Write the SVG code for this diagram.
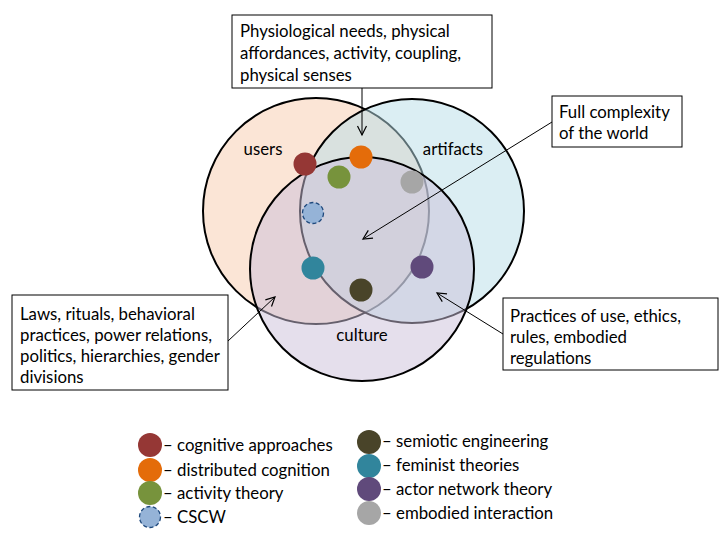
<svg xmlns="http://www.w3.org/2000/svg" width="720" height="540" viewBox="0 0 720 540">
<defs>
<marker id="arr" markerWidth="12" markerHeight="12" refX="10" refY="6" orient="auto" markerUnits="userSpaceOnUse">
<path d="M1,1.5 L10,6 L1,10.5" fill="none" stroke="#000" stroke-width="1.2"/>
</marker>
</defs>
<style>
text{font-family:Lato,"Liberation Sans",sans-serif;font-size:16.8px;fill:#000}
.set{stroke:#000;stroke-width:2}
.box{fill:#fff;stroke:#000;stroke-width:1}
.conn{fill:none;stroke:#000;stroke-width:1;marker-end:url(#arr)}
.lbl{text-anchor:middle}
</style>
<rect width="720" height="540" fill="#fff"/>
<g id="set-users"><circle class="set" cx="316" cy="211" r="113" fill="#FBE5D6"/><text class="lbl" x="263" y="155">users</text></g>
<g id="set-artifacts"><circle class="set" cx="412" cy="211" r="112" fill="#B7DEE8" fill-opacity="0.5"/><text class="lbl" x="453" y="155">artifacts</text></g>
<g id="set-culture"><circle class="set" cx="362" cy="269" r="112" fill="#CCC0DA" fill-opacity="0.5"/><text class="lbl" x="362" y="341">culture</text></g>
<g id="dots">
<circle cx="305" cy="164" r="11.5" fill="#953735"/>
<circle cx="361" cy="157" r="11.5" fill="#E46C0A"/>
<circle cx="339" cy="177" r="11.5" fill="#77933C"/>
<circle cx="412" cy="182" r="11.5" fill="#A6A6A6"/>
<circle cx="313" cy="213" r="10.5" fill="#95B3D7" stroke="#1F497D" stroke-width="1.3" stroke-dasharray="4,2.5"/>
<circle cx="313" cy="268" r="11.5" fill="#31859C"/>
<circle cx="361" cy="290" r="11.5" fill="#494429"/>
<circle cx="422" cy="267" r="11.5" fill="#604A7B"/>
</g>
<g id="connectors">
<line class="conn" x1="362" y1="88" x2="362" y2="135"/>
<line class="conn" x1="552" y1="122" x2="363" y2="239"/>
<line class="conn" x1="228" y1="341" x2="275" y2="297"/>
<line class="conn" x1="503" y1="334" x2="437" y2="293"/>
</g>
<g id="note-physical"><rect class="box" x="232" y="15" width="260" height="73"/>
<text x="240" y="37">Physiological needs, physical</text>
<text x="240" y="59">affordances, activity, coupling,</text>
<text x="240" y="81">physical senses</text></g>
<g id="note-world"><rect class="box" x="552" y="96" width="130" height="51"/>
<text x="559" y="118">Full complexity</text>
<text x="559" y="139">of the world</text></g>
<g id="note-laws"><rect class="box" x="12" y="295" width="216" height="95"/>
<text x="20" y="320">Laws, rituals, behavioral</text>
<text x="20" y="341">practices, power relations,</text>
<text x="20" y="362">politics, hierarchies, gender</text>
<text x="20" y="383">divisions</text></g>
<g id="note-practices"><rect class="box" x="503" y="298" width="215" height="72"/>
<text x="510" y="322">Practices of use, ethics,</text>
<text x="510" y="343">rules, embodied</text>
<text x="510" y="364">regulations</text></g>
<g id="legend">
<circle cx="150" cy="445" r="12" fill="#953735"/><text x="163" y="451">– cognitive approaches</text>
<circle cx="150" cy="470" r="12" fill="#E46C0A"/><text x="163" y="476">– distributed cognition</text>
<circle cx="150" cy="493" r="12" fill="#77933C"/><text x="163" y="499">– activity theory</text>
<circle cx="150" cy="517" r="10.5" fill="#95B3D7" stroke="#1F497D" stroke-width="1.3" stroke-dasharray="4,2.5"/><text x="163" y="523">– CSCW</text>
<circle cx="369" cy="442" r="12" fill="#494429"/><text x="382" y="447">– semiotic engineering</text>
<circle cx="369" cy="466" r="12" fill="#31859C"/><text x="382" y="471">– feminist theories</text>
<circle cx="369" cy="489" r="12" fill="#604A7B"/><text x="382" y="495">– actor network theory</text>
<circle cx="369" cy="513" r="12" fill="#A6A6A6"/><text x="382" y="519">– embodied interaction</text>
</g>
</svg>
